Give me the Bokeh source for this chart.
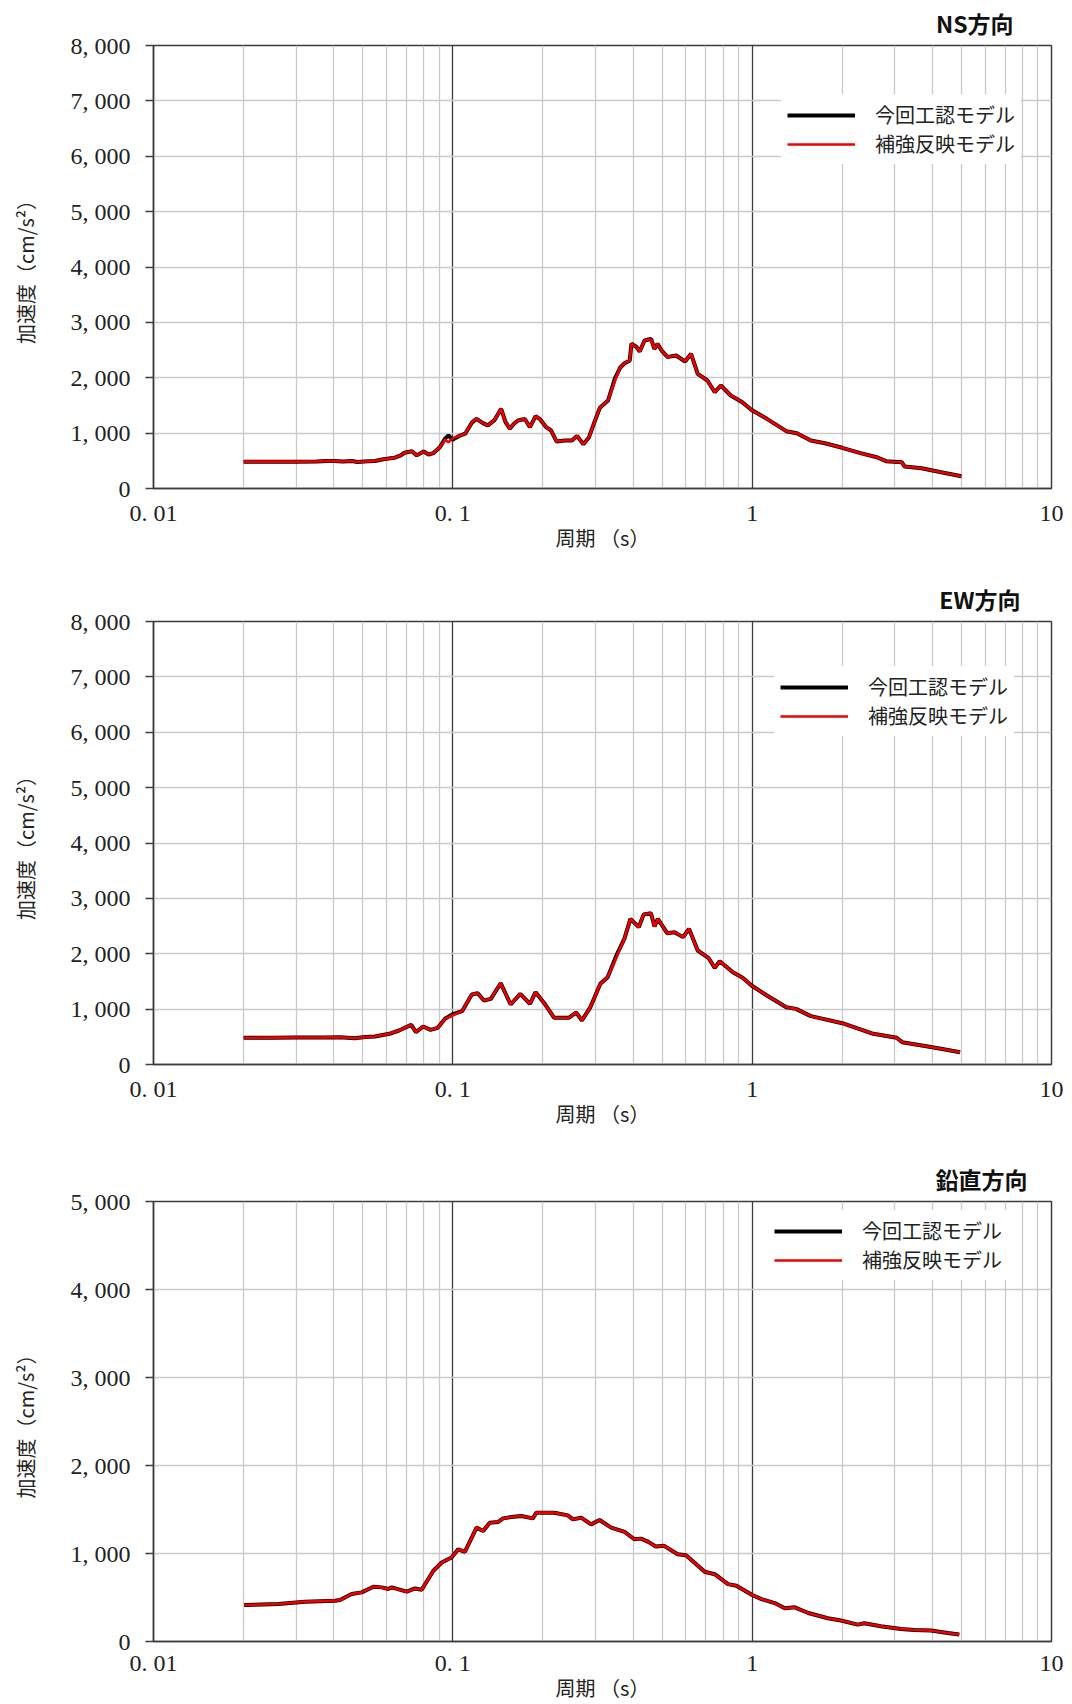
from bokeh.plotting import figure
from bokeh.layouts import column
from bokeh.models import FixedTicker, Legend, LegendItem
from bokeh.embed import file_html
from bokeh.resources import INLINE

# ---------------- data ----------------
X_TICKS = [0.01, 0.1, 1, 10]
X_TICK_LABELS = ["0. 01", "0. 1", "1", "10"]
X_MINOR_TICKS = [0.02, 0.03, 0.04, 0.05, 0.06, 0.07, 0.08, 0.09,
                 0.2, 0.3, 0.4, 0.5, 0.6, 0.7, 0.8, 0.9,
                 2, 3, 4, 5, 6, 7, 8, 9]

Y_TICKS_HORIZ = [0, 1000, 2000, 3000, 4000, 5000, 6000, 7000, 8000]
Y_LABELS_HORIZ = ["0", "1, 000", "2, 000", "3, 000", "4, 000", "5, 000", "6, 000", "7, 000", "8, 000"]
Y_TICKS_VERT = [0, 1000, 2000, 3000, 4000, 5000]
Y_LABELS_VERT = ["0", "1, 000", "2, 000", "3, 000", "4, 000", "5, 000"]

SERIES_NAMES = ["今回工認モデル", "補強反映モデル"]
PANEL_TITLES = ["NS方向", "EW方向", "鉛直方向"]
X_LABEL = "周期 （s）"
Y_LABEL = "加速度（cm/s²）"

# NS direction (period s, acceleration cm/s2)
NS_T = [0.020, 0.025, 0.030, 0.035, 0.038, 0.040, 0.043, 0.046, 0.048, 0.052,
        0.055, 0.058, 0.061, 0.064, 0.067, 0.069, 0.073, 0.0758, 0.0798, 0.083,
        0.0862, 0.0905, 0.0942, 0.0967, 0.0996, 0.105, 0.110, 0.116, 0.120, 0.126,
        0.131, 0.138, 0.145, 0.150, 0.155, 0.160, 0.165, 0.174, 0.181, 0.189,
        0.195, 0.205, 0.213, 0.222, 0.237, 0.250, 0.260, 0.273, 0.285, 0.295,
        0.310, 0.330, 0.348, 0.362, 0.375, 0.390, 0.395, 0.410, 0.421, 0.437,
        0.450, 0.460, 0.471, 0.483, 0.500, 0.522, 0.540, 0.557, 0.597, 0.625,
        0.658, 0.709, 0.750, 0.786, 0.848, 0.927, 0.993, 1.12, 1.30, 1.41,
        1.57, 1.75, 2.00, 2.30, 2.61, 2.80, 3.16, 3.23, 3.68, 4.28,
        5.00]
NS_RED = [485, 485, 485, 487, 498, 495, 488, 496, 478, 490,
          498, 524, 540, 556, 600, 645, 672, 598, 668, 614,
          640, 746, 880, 836, 900, 950, 990, 1195, 1258, 1180,
          1140, 1240, 1440, 1200, 1080, 1170, 1228, 1255, 1107, 1306,
          1258, 1107, 1047, 850, 867, 867, 950, 800, 927, 1150,
          1460, 1589, 1950, 2180, 2263, 2312, 2613, 2560, 2474, 2673,
          2690, 2691, 2523, 2613, 2480, 2372, 2390, 2402, 2293, 2433,
          2071, 1950, 1739, 1860, 1680, 1559, 1421, 1258, 1035, 999,
          867, 818, 735, 638, 565, 493, 475, 397, 367, 294,
          222]
NS_BLACK = [485, 485, 485, 487, 498, 495, 488, 496, 478, 490,
            498, 524, 540, 556, 600, 645, 672, 598, 668, 614,
            640, 746, 900, 960, 880, 950, 990, 1195, 1258, 1180,
            1140, 1240, 1440, 1200, 1080, 1170, 1228, 1255, 1107, 1306,
            1258, 1107, 1047, 850, 867, 867, 950, 800, 927, 1150,
            1460, 1589, 1990, 2180, 2263, 2312, 2613, 2560, 2474, 2673,
            2690, 2700, 2523, 2613, 2480, 2372, 2390, 2402, 2293, 2433,
            2071, 1950, 1739, 1860, 1680, 1559, 1421, 1258, 1035, 999,
            867, 818, 735, 638, 565, 493, 475, 397, 367, 294,
            222]

# EW direction
EW_T = [0.020, 0.025, 0.030, 0.037, 0.042, 0.047, 0.051, 0.0549, 0.0614, 0.0661,
        0.0726, 0.0753, 0.0796, 0.0842, 0.0890, 0.0942, 0.0996, 0.1074, 0.1157, 0.121,
        0.127, 0.134, 0.1445, 0.156, 0.168, 0.181, 0.189, 0.202, 0.218, 0.244,
        0.258, 0.270, 0.288, 0.311, 0.329, 0.354, 0.374, 0.392, 0.418, 0.434,
        0.459, 0.472, 0.484, 0.520, 0.550, 0.588, 0.615, 0.658, 0.714, 0.750,
        0.779, 0.862, 0.929, 0.995, 1.12, 1.30, 1.40, 1.57, 2.00, 2.54,
        3.04, 3.17, 3.82, 4.27, 4.95]
EW_RED = [482, 485, 487, 489, 492, 475, 495, 506, 554, 614,
          716, 584, 686, 626, 662, 825, 885, 963, 1264, 1288,
          1156, 1186, 1468, 1084, 1277, 1096, 1306, 1107, 843, 843,
          939, 795, 1035, 1457, 1577, 1969, 2270, 2631, 2480, 2709,
          2733, 2493, 2631, 2372, 2390, 2300, 2450, 2059, 1927, 1746,
          1866, 1667, 1566, 1427, 1246, 1035, 1005, 873, 746, 554,
          482, 403, 331, 284, 222]
EW_BLACK = [482, 485, 487, 489, 492, 475, 495, 506, 554, 614,
            716, 584, 686, 626, 662, 825, 905, 963, 1264, 1288,
            1156, 1186, 1468, 1084, 1277, 1096, 1306, 1107, 843, 843,
            939, 795, 1035, 1457, 1577, 2000, 2270, 2631, 2480, 2709,
            2733, 2493, 2631, 2372, 2390, 2300, 2450, 2059, 1927, 1746,
            1866, 1667, 1566, 1427, 1246, 1035, 1005, 873, 746, 554,
            482, 403, 331, 284, 222]

# Vertical direction
UD_T = [0.0201, 0.0261, 0.0321, 0.0404, 0.0420, 0.0459, 0.0496, 0.0543, 0.0579, 0.0609,
        0.0625, 0.0701, 0.0748, 0.0787, 0.0861, 0.0918, 0.0990, 0.1042, 0.1097, 0.1200,
        0.1263, 0.1328, 0.1416, 0.1471, 0.1567, 0.1692, 0.1851, 0.1900, 0.2185, 0.2421,
        0.2519, 0.2683, 0.2898, 0.3090, 0.3381, 0.3747, 0.4041, 0.4253, 0.4497, 0.4766,
        0.5085, 0.5635, 0.6012, 0.6945, 0.7500, 0.8302, 0.886, 1.0, 1.074, 1.19,
        1.285, 1.388, 1.54, 1.79, 1.98, 2.25, 2.37, 2.69, 3.14, 3.48,
        3.96, 4.50, 4.92]
UD_RED = [414, 426, 453, 464, 471, 539, 558, 622, 615, 596,
          615, 566, 603, 588, 804, 898, 954, 1048, 1019, 1294,
          1256, 1350, 1358, 1399, 1415, 1426, 1399, 1464, 1464, 1433,
          1388, 1407, 1331, 1381, 1294, 1245, 1162, 1169, 1132, 1079,
          1087, 992, 980, 792, 765, 652, 634, 528, 482, 437,
          377, 388, 324, 264, 238, 192, 207, 173, 143, 131,
          124, 97, 79]
UD_BLACK = [414, 426, 453, 464, 471, 539, 558, 622, 615, 596,
            615, 566, 603, 588, 804, 898, 954, 1048, 1019, 1294,
            1256, 1350, 1358, 1399, 1415, 1426, 1399, 1464, 1464, 1433,
            1388, 1407, 1331, 1381, 1294, 1245, 1162, 1169, 1132, 1079,
            1087, 992, 980, 792, 765, 652, 634, 528, 482, 437,
            377, 388, 324, 264, 238, 192, 207, 173, 143, 131,
            124, 97, 79]

# ---------------- styling ----------------
SERIF = "Liberation Serif"
SANS = "Noto Sans CJK JP"
DARK = "#3c3c3c"
LIGHT = "#c9c9c9"
RED = "#ee0000"


def make_panel(title, t_blk, a_blk, t_red, a_red, y_max, y_ticks, y_labels,
               height, top, bottom, title_offset, title_standoff,
               legend_xy, tick_standoff, xlab_standoff):
    p = figure(width=1064, height=height, x_axis_type="log",
               x_range=(0.01, 10), y_range=(0, y_max),
               output_backend="svg", toolbar_location=None,
               min_border_left=153, min_border_right=13,
               min_border_top=top, min_border_bottom=bottom,
               background_fill_color="white", border_fill_color="white")

    # title
    p.title.text = title
    p.title.align = "right"
    p.title.vertical_align = "top"
    p.title.offset = title_offset
    p.title.text_font = SANS
    p.title.text_font_size = "23px"
    p.title.text_font_style = "bold"
    p.title.text_color = "#111111"
    p.title.standoff = title_standoff

    # x axis
    xt = FixedTicker(ticks=X_TICKS, minor_ticks=X_MINOR_TICKS)
    p.xaxis.ticker = xt
    p.xaxis.major_label_overrides = {k: v for k, v in zip(X_TICKS, X_TICK_LABELS)}
    p.xgrid.ticker = xt
    p.xgrid.grid_line_color = DARK
    p.xgrid.grid_line_width = 1.3
    p.xgrid.minor_grid_line_color = LIGHT
    p.xgrid.minor_grid_line_width = 1.3
    p.xaxis.major_tick_out = 0
    p.xaxis.major_tick_in = 0
    p.xaxis.minor_tick_out = 0
    p.xaxis.minor_tick_in = 0
    p.xaxis.axis_line_color = DARK
    p.xaxis.axis_line_width = 1.5
    p.xaxis.major_label_text_font = SERIF
    p.xaxis.major_label_text_font_size = "24px"
    p.xaxis.major_label_text_color = "#222222"
    p.xaxis.major_label_standoff = tick_standoff
    p.xaxis.axis_label = X_LABEL
    p.xaxis.axis_label_text_font = SANS
    p.xaxis.axis_label_text_font_size = "20px"
    p.xaxis.axis_label_text_font_style = "normal"
    p.xaxis.axis_label_text_color = "#222222"
    p.xaxis.axis_label_standoff = xlab_standoff

    # y axis
    yt = FixedTicker(ticks=y_ticks, minor_ticks=[])
    p.yaxis.ticker = yt
    p.yaxis.major_label_overrides = {k: v for k, v in zip(y_ticks, y_labels)}
    p.ygrid.ticker = yt
    p.ygrid.grid_line_color = LIGHT
    p.ygrid.grid_line_width = 1.3
    p.yaxis.major_tick_out = 8
    p.yaxis.major_tick_in = 0
    p.yaxis.major_tick_line_color = DARK
    p.yaxis.major_tick_line_width = 1.5
    p.yaxis.minor_tick_out = 0
    p.yaxis.minor_tick_in = 0
    p.yaxis.axis_line_color = DARK
    p.yaxis.axis_line_width = 1.5
    p.yaxis.major_label_text_font = SERIF
    p.yaxis.major_label_text_font_size = "24px"
    p.yaxis.major_label_text_color = "#222222"
    p.yaxis.major_label_standoff = 15
    p.yaxis.axis_label = Y_LABEL
    p.yaxis.axis_label_text_font = SANS
    p.yaxis.axis_label_text_font_size = "20px"
    p.yaxis.axis_label_text_font_style = "normal"
    p.yaxis.axis_label_text_color = "#222222"
    p.yaxis.axis_label_standoff = 28

    p.outline_line_color = DARK
    p.outline_line_width = 1.5

    r_blk = p.line(t_blk, a_blk, line_color="#000000", line_width=4)
    r_red = p.line(t_red, a_red, line_color=RED, line_width=2.6)

    legend = Legend(items=[LegendItem(label=SERIES_NAMES[0], renderers=[r_blk]),
                           LegendItem(label=SERIES_NAMES[1], renderers=[r_red])],
                    location=legend_xy, orientation="vertical")
    legend.glyph_width = 68
    legend.glyph_height = 20
    legend.label_standoff = 20
    legend.padding = 6
    legend.spacing = -3
    legend.margin = 0
    legend.label_text_font = SANS
    legend.label_text_font_size = "20px"
    legend.label_text_color = "#222222"
    legend.background_fill_color = "white"
    legend.background_fill_alpha = 1.0
    legend.border_line_alpha = 0
    p.add_layout(legend)
    return p


p1 = make_panel(PANEL_TITLES[0], NS_T, NS_BLACK, NS_T, NS_RED, 8000,
                Y_TICKS_HORIZ, Y_LABELS_HORIZ, 576, 45, 88, 38, 8,
                (628, 324), 11, -6)
p2 = make_panel(PANEL_TITLES[1], EW_T, EW_BLACK, EW_T, EW_RED, 8000,
                Y_TICKS_HORIZ, Y_LABELS_HORIZ, 581, 45, 93, 31, 8,
                (621, 328), 11, -6)
p3 = make_panel(PANEL_TITLES[2], UD_T, UD_BLACK, UD_T, UD_RED, 5000,
                Y_TICKS_VERT, Y_LABELS_VERT, 547, 41, 63, 24, 8,
                (615, 361), 8, -6)

layout = column(p1, p2, p3, spacing=0)
open("out.html", "w").write(file_html(layout, INLINE))
